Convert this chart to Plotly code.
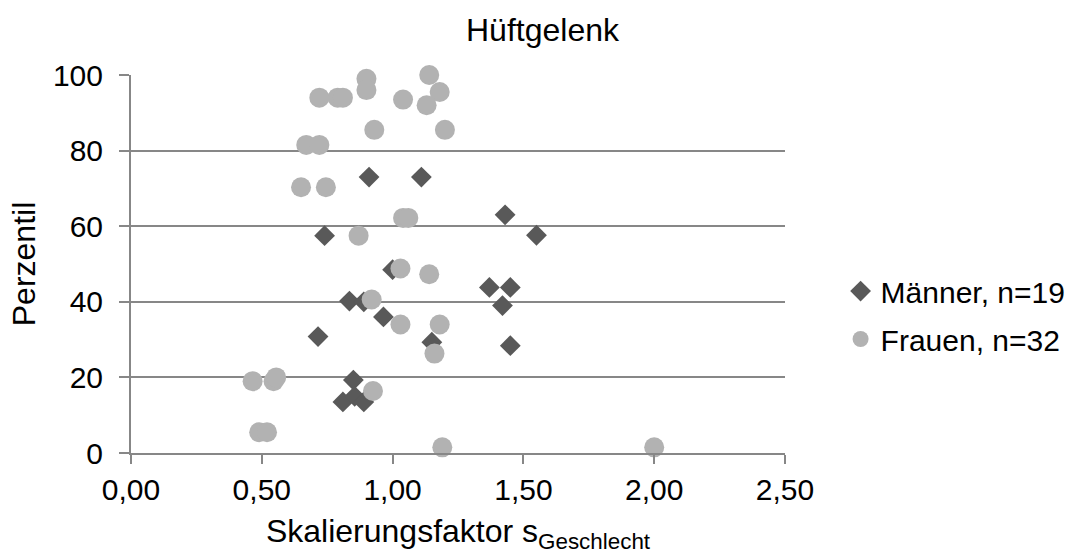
import plotly.graph_objects as go

# Männer: Skalierungsfaktor und Perzentil
maenner_s = [0.91, 1.11, 1.43, 0.74, 1.55, 1.00, 1.37, 1.45, 0.835, 0.89,
             1.42, 0.965, 0.715, 1.15, 1.45, 0.85, 0.81, 0.855, 0.89]
maenner_p = [73, 73, 63, 57.5, 57.6, 48.5, 43.8, 43.8, 40.2, 40.0,
             39.0, 36.0, 30.8, 29.3, 28.4, 19.3, 13.5, 15.0, 13.5]

# Frauen: Skalierungsfaktor und Perzentil
frauen_s = [0.90, 1.14, 0.90, 0.72, 0.79, 0.81, 1.04, 1.18, 1.13, 0.93,
            1.20, 0.67, 0.72, 0.65, 0.745, 1.04, 1.06, 0.87, 1.03, 1.14,
            0.92, 1.03, 1.18, 1.16, 0.465, 0.545, 0.555, 0.925, 0.49, 0.52,
            1.19, 2.00]
frauen_p = [99.0, 100.0, 96.0, 94.0, 94.0, 94.0, 93.5, 95.5, 92.0, 85.5,
            85.5, 81.5, 81.5, 70.3, 70.3, 62.2, 62.2, 57.5, 48.8, 47.3,
            40.6, 34.0, 34.0, 26.3, 19.0, 19.0, 20.0, 16.4, 5.5, 5.5,
            1.5, 1.5]

x_ticks = [0, 0.5, 1.0, 1.5, 2.0, 2.5]
y_ticks = [0, 20, 40, 60, 80, 100]

FONT = "Liberation Sans, Arial, sans-serif"
GRID = "#878787"

fig = go.Figure()
fig.add_trace(go.Scatter(
    x=maenner_s, y=maenner_p, mode="markers", name="Männer, n=19",
    legendgroup="m",
    marker=dict(symbol="diamond", size=16, color="#595959"),
    cliponaxis=False,
))
fig.add_trace(go.Scatter(
    x=frauen_s, y=frauen_p, mode="markers", name="Frauen, n=32",
    legendgroup="f",
    marker=dict(symbol="circle", size=20, color="#b2b2b2"),
    cliponaxis=False,
))

fig.update_layout(
    width=1085, height=560,
    margin=dict(l=131, r=300, t=75, b=107),
    paper_bgcolor="white", plot_bgcolor="white",
    separators=",.",
    font=dict(family=FONT, size=30, color="black"),
    title=dict(text="Hüftgelenk", x=0.5, xanchor="center", y=0.946,
               yanchor="middle", font=dict(size=32, family=FONT)),
    legend=dict(x=1.085, xanchor="left", y=0.365, yanchor="middle",
                font=dict(size=30, family=FONT), tracegroupgap=6,
                itemwidth=30),
    showlegend=True,
)
fig.update_xaxes(
    range=[0, 2.5], tickvals=x_ticks, tickformat=".2f",
    showline=True, linecolor=GRID, linewidth=2,
    ticks="outside", ticklen=9, tickcolor=GRID, tickwidth=2,
    showgrid=False, zeroline=False,
    tickfont=dict(size=30),
    title=dict(text="Skalierungsfaktor s<sub>Geschlecht</sub>",
               font=dict(size=32), standoff=15),
)
fig.update_yaxes(
    range=[0, 100], tickvals=y_ticks,
    showline=True, linecolor=GRID, linewidth=2,
    ticks="outside", ticklen=10, tickcolor=GRID, tickwidth=2,
    ticklabelstandoff=10,
    showgrid=True, gridcolor=GRID, gridwidth=2, zeroline=False,
    tickfont=dict(size=30),
    title=dict(text="Perzentil", font=dict(size=32), standoff=8),
)

fig.write_html("out.html")
